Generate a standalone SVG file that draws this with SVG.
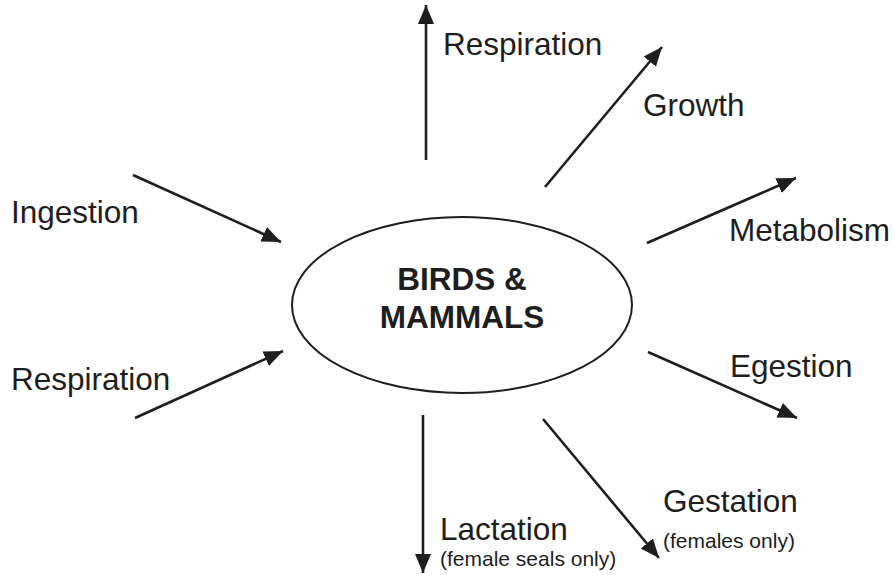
<svg xmlns="http://www.w3.org/2000/svg" width="894" height="575" viewBox="0 0 894 575">
  <style>
    .lbl { font-family: "Liberation Sans", Arial, sans-serif; font-size: 31.5px; fill: #1e1e1e; }
    .sub { font-family: "Liberation Sans", Arial, sans-serif; font-size: 21px; fill: #1e1e1e; }
    .title { font-family: "Liberation Sans", Arial, sans-serif; font-size: 31.5px; font-weight: bold; fill: #1e1e1e; text-anchor: middle; }
    .arrow { stroke: #1e1e1e; stroke-width: 2.6; fill: none; marker-end: url(#head); }
  </style>
  <defs>
    <marker id="head" markerUnits="userSpaceOnUse" markerWidth="21" markerHeight="18" refX="19" refY="9" orient="auto">
      <path d="M0,1 L19,9 L0,17 z" fill="#1e1e1e"/>
    </marker>
  </defs>
  <rect width="894" height="575" fill="#ffffff"/>

  <g id="center">
    <ellipse cx="462" cy="305" rx="170" ry="88" fill="none" stroke="#1e1e1e" stroke-width="2"/>
    <text class="title" x="462" y="290">BIRDS &amp;</text>
    <text class="title" x="462" y="328">MAMMALS</text>
  </g>

  <g id="connectors">
    <line class="arrow" x1="426" y1="160" x2="426" y2="5"/>
    <line class="arrow" x1="545" y1="187" x2="662" y2="47"/>
    <line class="arrow" x1="647" y1="243" x2="796" y2="178"/>
    <line class="arrow" x1="648" y1="352" x2="797" y2="418"/>
    <line class="arrow" x1="543" y1="419" x2="659" y2="558"/>
    <line class="arrow" x1="423" y1="415" x2="423" y2="573"/>
    <line class="arrow" x1="133" y1="175" x2="281" y2="242"/>
    <line class="arrow" x1="135" y1="418" x2="283" y2="351"/>
  </g>

  <g id="respiration-out"><text class="lbl" x="443" y="55">Respiration</text></g>
  <g id="growth"><text class="lbl" x="643" y="116">Growth</text></g>
  <g id="metabolism"><text class="lbl" x="729" y="241">Metabolism</text></g>
  <g id="egestion"><text class="lbl" x="730" y="377">Egestion</text></g>
  <g id="gestation">
    <text class="lbl" x="663" y="512">Gestation</text>
    <text class="sub" x="663" y="548">(females only)</text>
  </g>
  <g id="lactation">
    <text class="lbl" x="440" y="540">Lactation</text>
    <text class="sub" x="440" y="566">(female seals only)</text>
  </g>
  <g id="ingestion"><text class="lbl" x="11" y="223">Ingestion</text></g>
  <g id="respiration-in"><text class="lbl" x="11" y="390">Respiration</text></g>
</svg>
